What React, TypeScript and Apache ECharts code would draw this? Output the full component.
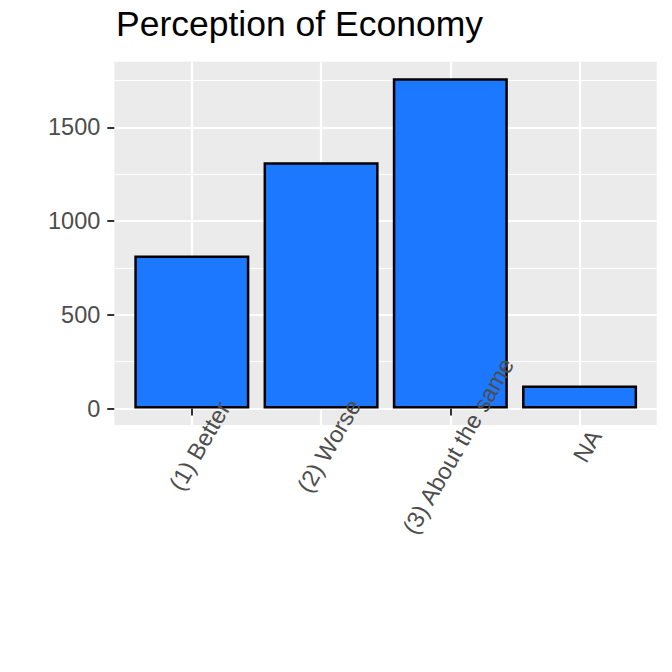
import React, { useEffect, useRef } from "react";
import * as echarts from "echarts";

const categories = ["(1) Better", "(2) Worse", "(3) About the same", "NA"];
const counts = [817, 1315, 1763, 123];
const yTicks = [0, 500, 1000, 1500];
const yMinor = [250, 750, 1250, 1750];
const titleText = "Perception of Economy";

export default function App() {
  const ref = useRef<HTMLDivElement>(null);
  useEffect(() => {
    if (!ref.current) return;
    const chart = echarts.init(ref.current, null, { renderer: "svg" });
    const panel = { left: 114.3, top: 61.7, width: 542.4, height: 363.3 };
    const yMin = -88;
    const yMax = 1851;
    const pxPerUnit = panel.height / (yMax - yMin);
    const yOf = (v: number) => panel.top + (yMax - v) * pxPerUnit;
    const font = "'Liberation Sans', Arial, Helvetica, sans-serif";
    const textSize = 23.5;

    chart.setOption({
      animation: false,
      backgroundColor: "#FFFFFF",
      title: {
        text: titleText,
        left: 116,
        top: 6,
        padding: 0,
        textStyle: { fontFamily: font, fontSize: 35.5, fontWeight: "normal", color: "#000000" },
      },
      grid: [
        { ...panel, show: true, backgroundColor: "#EBEBEB", borderWidth: 0, z: -1 },
        { left: 127.2, width: 517, top: panel.top, height: panel.height },
        { left: panel.left, width: panel.width, top: yOf(1500), height: yOf(0) - yOf(1500) },
        { left: 127.2 + 8, width: 517, top: panel.top, height: panel.height },
      ],
      xAxis: [
        { gridIndex: 0, type: "value", min: 0, max: 1, show: false },
        {
          gridIndex: 1,
          type: "category",
          data: categories,
          z: 20,
          axisLine: { show: false },
          axisTick: { show: true, alignWithLabel: true, length: 7, lineStyle: { color: "#333333", width: 2 } },
          axisLabel: { show: false },
          splitLine: { show: false },
        },
        { gridIndex: 2, type: "value", min: 0, max: 1, show: false },
        {
          gridIndex: 3,
          type: "category",
          data: categories,
          z: 20,
          axisLine: { show: false },
          axisTick: { show: false },
          axisLabel: {
            rotate: 60,
            align: "center",
            verticalAlign: "middle",
            margin: 21,
            color: "#4D4D4D",
            fontSize: textSize,
            fontFamily: font,
            interval: 0,
            hideOverlap: false,
          },
          splitLine: { show: false },
        },
      ],
      yAxis: [
        { gridIndex: 0, type: "value", min: yMin, max: yMax, show: false },
        { gridIndex: 1, type: "value", min: yMin, max: yMax, show: false },
        {
          gridIndex: 2,
          type: "value",
          min: 0,
          max: 1500,
          interval: 500,
          z: 20,
          axisLine: { show: false },
          axisTick: { show: true, length: 7, lineStyle: { color: "#333333", width: 2 } },
          axisLabel: {
            color: "#4D4D4D",
            fontSize: textSize,
            fontFamily: font,
            margin: 14,
            formatter: (v: number) => String(v),
          },
          splitLine: { show: false },
        },
        { gridIndex: 3, type: "value", min: yMin, max: yMax, show: false },
      ],
      series: [
        {
          type: "line",
          xAxisIndex: 0,
          yAxisIndex: 0,
          data: [],
          z: 1,
          silent: true,
          markLine: {
            silent: true,
            symbol: "none",
            z: 1,
            label: { show: false },
            animation: false,
            data: [
              ...yMinor.map((v) => ({ yAxis: v, lineStyle: { color: "#FFFFFF", width: 1.1, type: "solid" } })),
              ...yTicks.map((v) => ({ yAxis: v, lineStyle: { color: "#FFFFFF", width: 2.2, type: "solid" } })),
            ],
          },
        },
        {
          type: "line",
          xAxisIndex: 1,
          yAxisIndex: 1,
          data: [],
          z: 1,
          silent: true,
          markLine: {
            silent: true,
            symbol: "none",
            z: 1,
            label: { show: false },
            animation: false,
            data: categories.map((c) => ({ xAxis: c, lineStyle: { color: "#FFFFFF", width: 2.2, type: "solid" } })),
          },
        },
        {
          type: "bar",
          xAxisIndex: 1,
          yAxisIndex: 1,
          data: counts,
          barWidth: "89%",
          z: 10,
          itemStyle: { color: "#1C79FF", borderColor: "#000000", borderWidth: 2.5 },
        },
      ],
    });
    return () => chart.dispose();
  }, []);
  return <div ref={ref} style={{ position: "absolute", left: 0, top: 0, width: 672, height: 672 }} />;
}
